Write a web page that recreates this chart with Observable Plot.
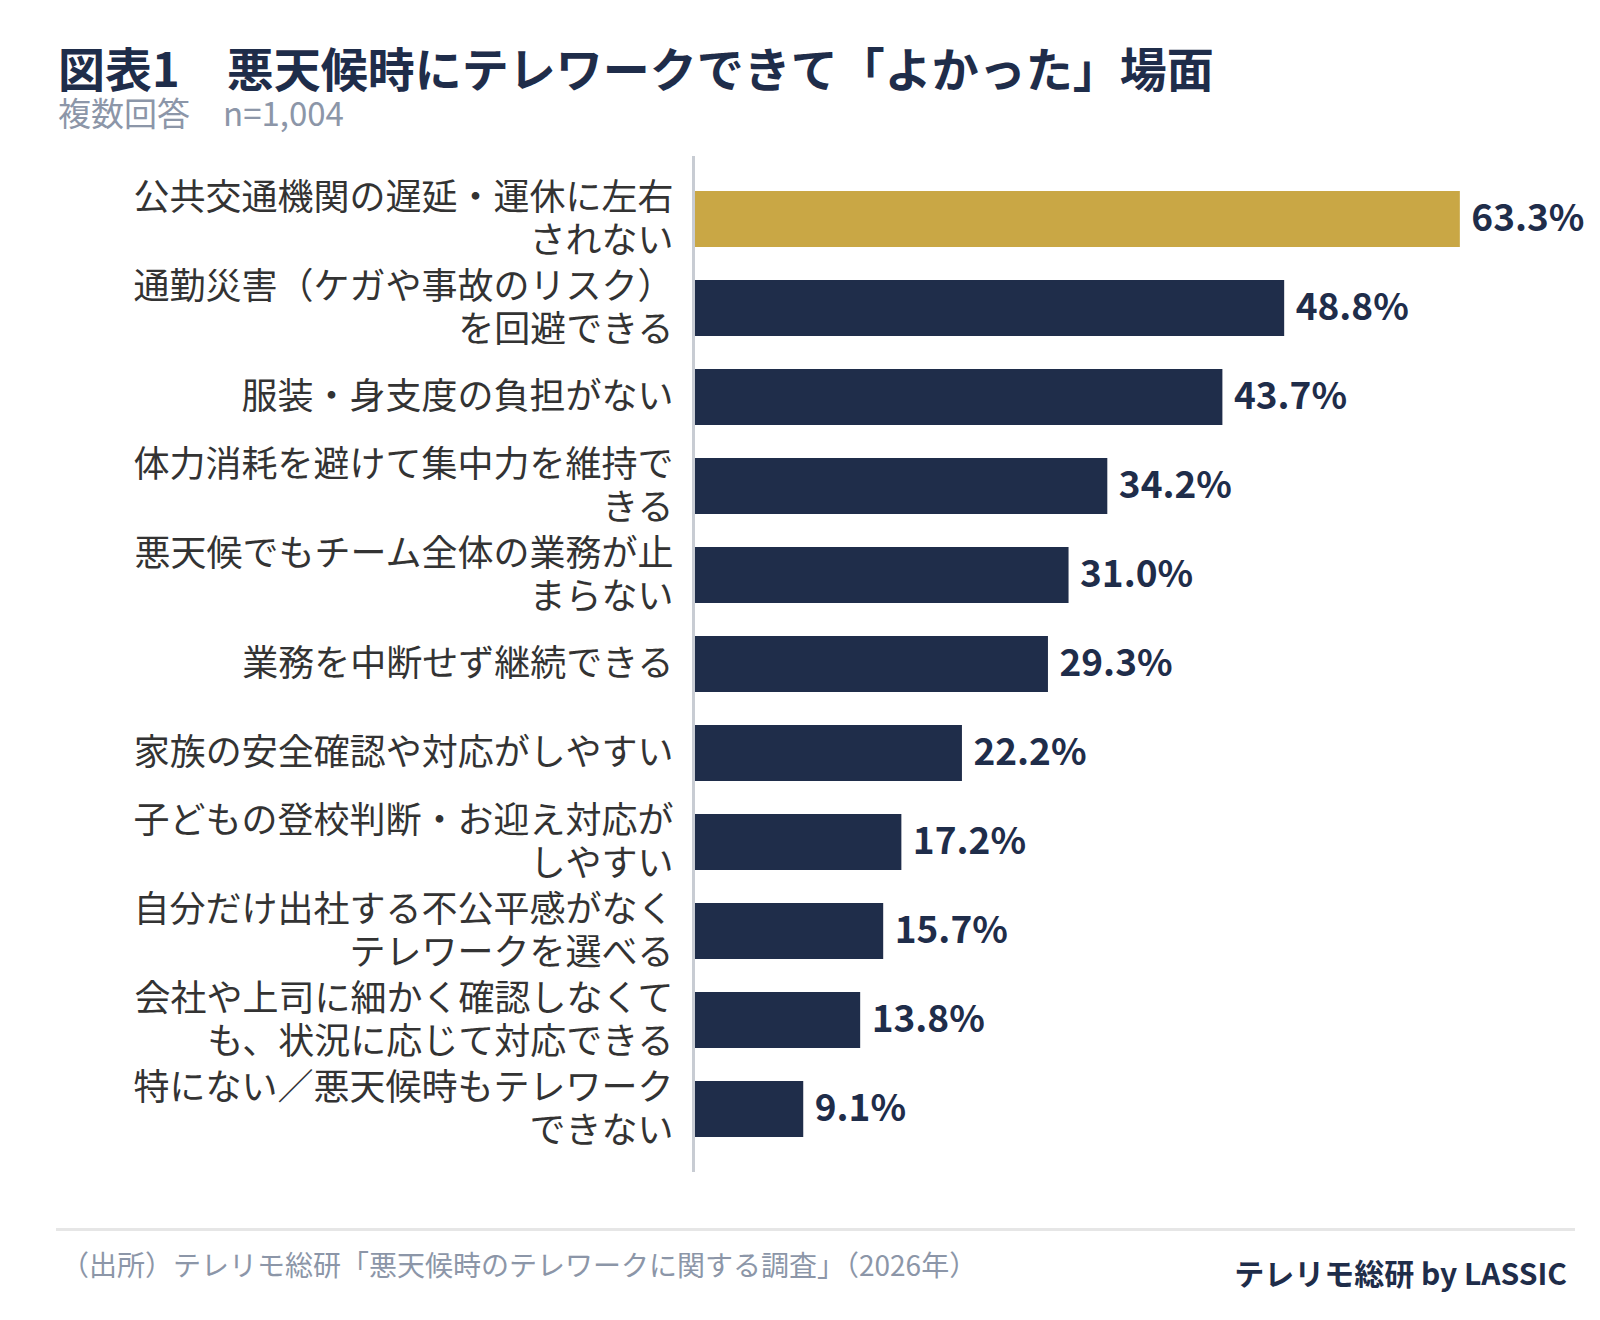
<!DOCTYPE html>
<html lang="ja">
<head>
<meta charset="utf-8">
<script src="https://cdn.jsdelivr.net/npm/d3@7"></script>
<script src="https://cdn.jsdelivr.net/npm/@observablehq/plot@0.6"></script>
<style>
  html, body { margin: 0; padding: 0; background: #fff; }
  body { width: 1600px; height: 1320px; position: relative; font-family: "Noto Sans CJK JP", "Noto Sans", sans-serif; }
  #title { position: absolute; left: 58px; top: 43px; font-size: 47px; font-weight: 700; color: #1f2d4a; line-height: 1; white-space: nowrap; }
  #subtitle { position: absolute; left: 58px; top: 96px; font-size: 33px; color: #8c96a8; line-height: 1; white-space: nowrap; }
  #chart { position: absolute; left: 0; top: 156px; }
  #rule { position: absolute; left: 56px; top: 1228px; width: 1519px; height: 3px; background: #e6e6e6; }
  #source { position: absolute; left: 61px; top: 1250px; font-size: 28px; color: #8c96a8; line-height: 1; white-space: nowrap; }
  #brand { position: absolute; right: 33px; top: 1257px; font-size: 30px; font-weight: 700; color: #1f2d4a; line-height: 1; white-space: nowrap; }
</style>
</head>
<body>
<div id="title">図表1　悪天候時にテレワークできて「よかった」場面</div>
<div id="subtitle">複数回答　n=1,004</div>
<div id="chart"></div>
<div id="rule"></div>
<div id="source">（出所）テレリモ総研「悪天候時のテレワークに関する調査」（2026年）</div>
<div id="brand">テレリモ総研 by LASSIC</div>
<script>
const categories = [
  "公共交通機関の遅延・運休に左右\nされない",
  "通勤災害（ケガや事故のリスク）\nを回避できる",
  "服装・身支度の負担がない",
  "体力消耗を避けて集中力を維持で\nきる",
  "悪天候でもチーム全体の業務が止\nまらない",
  "業務を中断せず継続できる",
  "家族の安全確認や対応がしやすい",
  "子どもの登校判断・お迎え対応が\nしやすい",
  "自分だけ出社する不公平感がなく\nテレワークを選べる",
  "会社や上司に細かく確認しなくて\nも、状況に応じて対応できる",
  "特にない／悪天候時もテレワーク\nできない"
];
const values = [63.3, 48.8, 43.7, 34.2, 31.0, 29.3, 22.2, 17.2, 15.7, 13.8, 9.1];

const data = categories.map((c, i) => ({category: c, value: values[i]}));
const navy = "#1f2d4a";
const gold = "#c9a745";

const chart = Plot.plot({
  width: 1600,
  height: 1016,
  marginLeft: 693,
  marginRight: 59,
  marginTop: 0,
  marginBottom: 0,
  style: { fontFamily: "'Noto Sans CJK JP', 'Noto Sans', sans-serif", background: "transparent" },
  x: { domain: [0, 70], axis: null },
  y: { domain: categories, axis: null, padding: 0.37 },
  marks: [
    Plot.barX(data, { y: "category", x: "value", fill: d => d.category === categories[0] ? gold : navy }),
    Plot.ruleX([0], { stroke: "#c8ccd3", strokeWidth: 3 }),
    Plot.text(data, {
      y: "category", x: 0, text: "category", dx: -20, dy: -2, textAnchor: "end",
      fontSize: 36, fill: "#333333", lineHeight: 1.19
    }),
    Plot.text(data, {
      y: "category", x: "value", text: d => d.value.toFixed(1) + "%", dx: 11, textAnchor: "start",
      fontSize: 37, fontWeight: 700, fill: navy
    })
  ]
});
document.getElementById("chart").appendChild(chart);
</script>
</body>
</html>
